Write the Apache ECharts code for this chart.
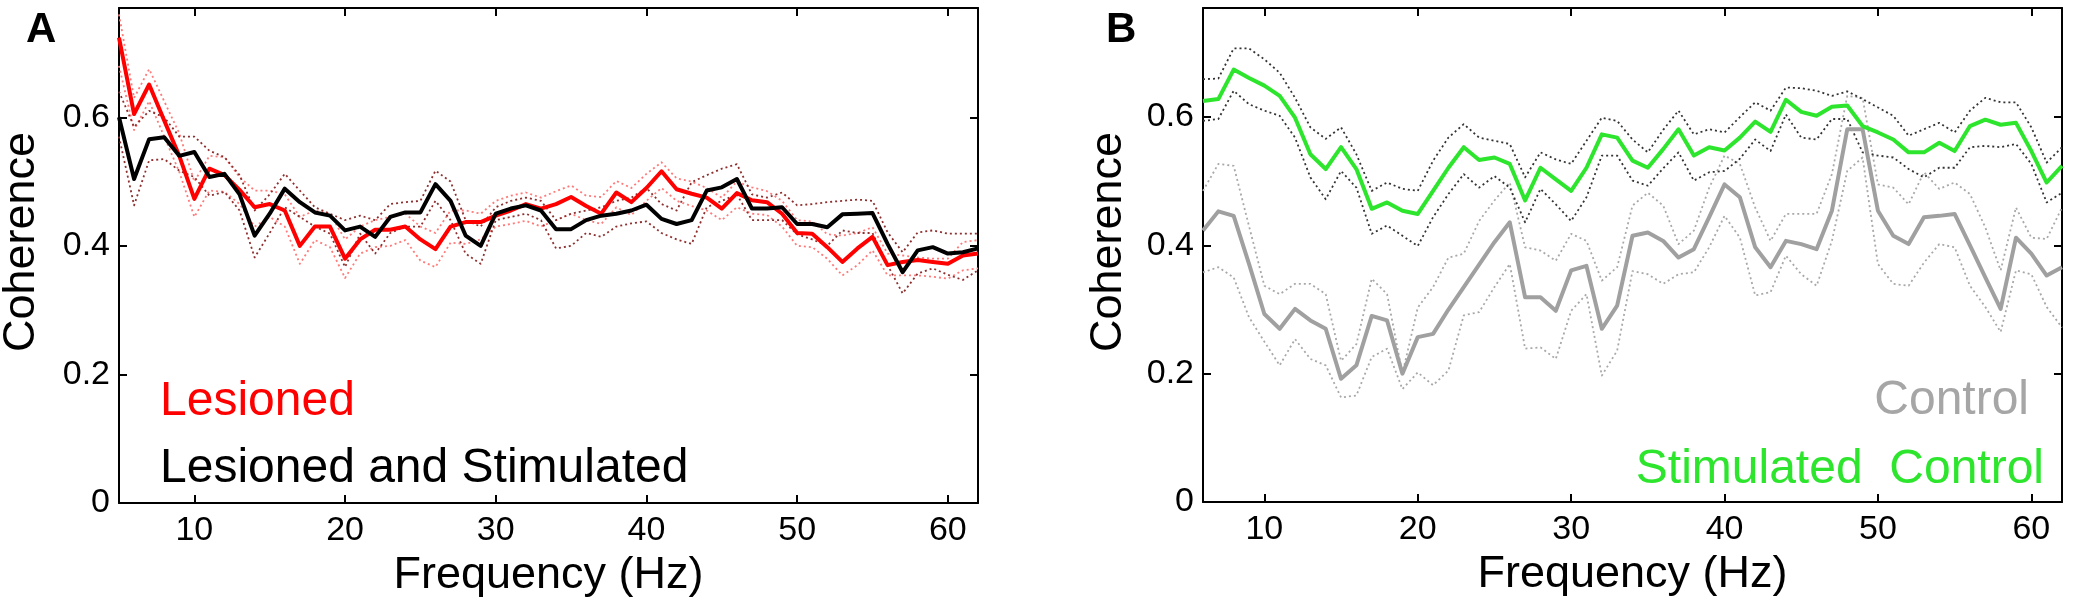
<!DOCTYPE html>
<html>
<head>
<meta charset="utf-8">
<script src="https://cdn.jsdelivr.net/npm/echarts@6/dist/echarts.min.js"></script>
<style>
html,body{margin:0;padding:0;background:#fff;}
#chart{width:2074px;height:604px;}
</style>
</head>
<body>
<div id="chart"></div>
<script>
// ---------- Data ----------
const freqA = [5,6,7,8,9,10,11,12,13,14,15,16,17,18,19,20,21,22,23,24,25,26,27,28,29,30,31,32,33,34,35,36,37,38,39,40,41,42,43,44,45,46,47,48,49,50,51,52,53,54,55,56,57,58,59,60,61,62];
const freqB = [6,7,8,9,10,11,12,13,14,15,16,17,18,19,20,21,22,23,24,25,26,27,28,29,30,31,32,33,34,35,36,37,38,39,40,41,42,43,44,45,46,47,48,49,50,51,52,53,54,55,56,57,58,59,60,61,62];

// Panel A: Lesioned (red) and Lesioned and Stimulated (black)
const lesioned = [0.724,0.605,0.651,0.595,0.54,0.473,0.52,0.51,0.487,0.46,0.465,0.455,0.40,0.43,0.43,0.38,0.41,0.425,0.425,0.43,0.41,0.395,0.43,0.437,0.437,0.447,0.455,0.465,0.458,0.465,0.476,0.462,0.45,0.483,0.468,0.49,0.516,0.488,0.481,0.475,0.458,0.482,0.471,0.468,0.45,0.42,0.419,0.398,0.375,0.396,0.414,0.37,0.375,0.378,0.375,0.372,0.385,0.388];
const lesionedUpper = [0.76,0.63,0.675,0.625,0.575,0.5,0.54,0.538,0.507,0.486,0.486,0.48,0.445,0.455,0.45,0.41,0.43,0.44,0.445,0.45,0.43,0.42,0.455,0.455,0.45,0.47,0.478,0.483,0.475,0.485,0.494,0.478,0.476,0.501,0.49,0.512,0.53,0.505,0.5,0.49,0.475,0.50,0.491,0.485,0.47,0.44,0.438,0.418,0.416,0.42,0.429,0.388,0.385,0.382,0.38,0.38,0.406,0.409];
const lesionedLower = [0.68,0.58,0.625,0.57,0.515,0.445,0.486,0.484,0.465,0.43,0.445,0.43,0.372,0.409,0.398,0.35,0.388,0.398,0.40,0.409,0.377,0.367,0.405,0.403,0.41,0.43,0.434,0.439,0.43,0.44,0.45,0.44,0.434,0.46,0.448,0.47,0.49,0.47,0.462,0.455,0.44,0.46,0.45,0.448,0.43,0.40,0.398,0.38,0.354,0.37,0.393,0.354,0.354,0.354,0.352,0.349,0.362,0.365];
const lesStim = [0.60,0.504,0.566,0.569,0.54,0.546,0.507,0.512,0.48,0.416,0.45,0.489,0.468,0.452,0.447,0.424,0.43,0.414,0.445,0.452,0.452,0.496,0.47,0.416,0.40,0.45,0.458,0.463,0.455,0.426,0.426,0.44,0.447,0.45,0.455,0.464,0.442,0.434,0.44,0.486,0.491,0.504,0.458,0.458,0.46,0.434,0.434,0.429,0.449,0.45,0.451,0.403,0.359,0.393,0.398,0.388,0.39,0.396];
const lesStimUpper = [0.64,0.585,0.61,0.60,0.57,0.57,0.548,0.538,0.51,0.455,0.48,0.512,0.486,0.46,0.45,0.44,0.447,0.44,0.465,0.468,0.47,0.517,0.50,0.44,0.43,0.46,0.47,0.475,0.47,0.44,0.45,0.455,0.46,0.47,0.475,0.49,0.465,0.455,0.499,0.51,0.52,0.527,0.48,0.475,0.483,0.463,0.465,0.468,0.47,0.472,0.47,0.421,0.39,0.421,0.424,0.419,0.419,0.419];
const lesStimLower = [0.57,0.463,0.533,0.535,0.517,0.507,0.478,0.484,0.455,0.382,0.42,0.46,0.445,0.43,0.419,0.367,0.419,0.388,0.42,0.43,0.43,0.47,0.44,0.388,0.372,0.44,0.445,0.45,0.44,0.396,0.40,0.42,0.414,0.43,0.435,0.438,0.42,0.41,0.403,0.46,0.47,0.48,0.44,0.44,0.44,0.418,0.41,0.40,0.424,0.42,0.42,0.37,0.326,0.357,0.365,0.355,0.347,0.362];

// Panel B: Control (gray) and Stimulated Control (green)
const control = [0.423,0.453,0.446,0.371,0.293,0.27,0.301,0.283,0.27,0.192,0.213,0.29,0.283,0.2,0.257,0.262,0.30,0.335,0.37,0.405,0.436,0.319,0.319,0.298,0.361,0.368,0.27,0.306,0.415,0.42,0.407,0.381,0.394,0.444,0.495,0.475,0.397,0.366,0.407,0.402,0.394,0.454,0.581,0.581,0.454,0.415,0.402,0.444,0.446,0.449,0.40,0.35,0.301,0.412,0.387,0.353,0.366];
const controlUpper = [0.485,0.527,0.524,0.43,0.337,0.324,0.34,0.34,0.324,0.22,0.246,0.348,0.324,0.2,0.303,0.335,0.381,0.387,0.438,0.47,0.498,0.397,0.392,0.376,0.418,0.407,0.345,0.366,0.462,0.482,0.462,0.402,0.423,0.49,0.54,0.527,0.459,0.407,0.449,0.449,0.449,0.511,0.633,0.63,0.495,0.49,0.464,0.514,0.488,0.498,0.48,0.428,0.361,0.459,0.412,0.41,0.459];
const controlLower = [0.358,0.366,0.35,0.288,0.25,0.213,0.254,0.223,0.213,0.163,0.166,0.226,0.239,0.176,0.202,0.182,0.205,0.291,0.296,0.335,0.371,0.239,0.241,0.223,0.298,0.324,0.197,0.236,0.36,0.355,0.34,0.355,0.358,0.397,0.446,0.412,0.322,0.327,0.384,0.355,0.337,0.407,0.516,0.537,0.371,0.34,0.337,0.373,0.402,0.397,0.337,0.304,0.265,0.361,0.355,0.304,0.272];
const stimControl = [0.625,0.628,0.674,0.661,0.649,0.633,0.599,0.542,0.519,0.553,0.519,0.457,0.467,0.454,0.449,0.485,0.521,0.553,0.533,0.537,0.527,0.47,0.521,0.503,0.485,0.521,0.573,0.568,0.532,0.521,0.55,0.581,0.54,0.553,0.548,0.568,0.593,0.577,0.627,0.608,0.602,0.616,0.618,0.586,0.576,0.565,0.545,0.545,0.56,0.547,0.586,0.596,0.588,0.591,0.547,0.498,0.524];
const stimControlUpper = [0.659,0.66,0.707,0.707,0.69,0.669,0.63,0.584,0.566,0.584,0.542,0.485,0.498,0.488,0.485,0.532,0.568,0.589,0.568,0.563,0.558,0.506,0.545,0.534,0.527,0.563,0.599,0.594,0.565,0.545,0.58,0.61,0.573,0.581,0.576,0.60,0.623,0.61,0.646,0.645,0.641,0.633,0.64,0.628,0.615,0.602,0.571,0.581,0.591,0.576,0.61,0.63,0.623,0.623,0.584,0.529,0.553];
const stimControlLower = [0.594,0.597,0.641,0.62,0.61,0.602,0.568,0.506,0.472,0.516,0.49,0.418,0.431,0.415,0.399,0.444,0.48,0.511,0.49,0.508,0.49,0.436,0.488,0.464,0.438,0.475,0.54,0.54,0.501,0.493,0.52,0.545,0.501,0.514,0.516,0.535,0.565,0.547,0.604,0.568,0.565,0.597,0.597,0.545,0.54,0.537,0.519,0.506,0.521,0.521,0.553,0.555,0.553,0.558,0.527,0.467,0.482];

// Tick labels
const xTicks = [10,20,30,40,50,60];
const yTicks = [0,0.2,0.4,0.6];

// ---------- Chart ----------
const FONT = '"Liberation Sans", Arial, Helvetica, sans-serif';
const pairs = (xs, ys) => xs.map((x, i) => [x, ys[i]]);

function xAxisCfg(grid, position, min, showLabels, name) {
  return {
    type: 'value', gridIndex: grid, position: position, min: min, max: 62,
    name: name || '', nameLocation: 'middle', nameGap: 46,
    nameTextStyle: {fontFamily: FONT, fontSize: 45, color: '#000'},
    axisLine: {show: true, onZero: false, lineStyle: {color: '#000', width: 2}},
    axisTick: {show: true, inside: true, length: 8, customValues: xTicks, lineStyle: {color: '#000', width: 2}},
    axisLabel: {show: showLabels, customValues: xTicks, margin: 11, fontFamily: FONT, fontSize: 34, color: '#000'},
    splitLine: {show: false}
  };
}
function yAxisCfg(grid, position, showLabels) {
  return {
    type: 'value', gridIndex: grid, position: position, min: 0, max: 0.77,
    axisLine: {show: true, onZero: false, lineStyle: {color: '#000', width: 2}},
    axisTick: {show: true, inside: true, length: 8, customValues: yTicks, lineStyle: {color: '#000', width: 2}},
    axisLabel: {show: showLabels, customValues: yTicks, margin: 9, fontFamily: FONT, fontSize: 34, color: '#000',
      formatter: v => String(Math.round(v * 10) / 10)},
    splitLine: {show: false}
  };
}
function line(name, xi, yi, xs, ys, color, width, dotted, z) {
  return {
    name: name, type: 'line', xAxisIndex: xi, yAxisIndex: yi,
    data: pairs(xs, ys), symbol: 'none', silent: true, z: z,
    lineStyle: {color: color, width: width, type: dotted ? [2, 3] : 'solid', cap: 'butt', join: 'round'}
  };
}

const chart = echarts.init(document.getElementById('chart'), null, {renderer: 'canvas'});
chart.setOption({
  animation: false,
  backgroundColor: '#ffffff',
  grid: [
    {left: 119, top: 8, width: 859, height: 495},
    {left: 1203, top: 8, width: 859, height: 494}
  ],
  xAxis: [
    xAxisCfg(0, 'bottom', 5, true, 'Frequency (Hz)'),
    xAxisCfg(0, 'top', 5, false),
    xAxisCfg(1, 'bottom', 6, true, 'Frequency (Hz)'),
    xAxisCfg(1, 'top', 6, false)
  ],
  yAxis: [
    yAxisCfg(0, 'left', true),
    yAxisCfg(0, 'right', false),
    yAxisCfg(1, 'left', true),
    yAxisCfg(1, 'right', false)
  ],
  series: [
    line('Lesioned upper', 0, 0, freqA, lesionedUpper, '#ff7a7a', 1.8, true, 2),
    line('Lesioned lower', 0, 0, freqA, lesionedLower, '#ff7a7a', 1.8, true, 2),
    line('Lesioned and Stimulated upper', 0, 0, freqA, lesStimUpper, '#8e2f2f', 1.8, true, 2),
    line('Lesioned and Stimulated lower', 0, 0, freqA, lesStimLower, '#8e2f2f', 1.8, true, 2),
    line('Lesioned', 0, 0, freqA, lesioned, '#ff0000', 4, false, 3),
    line('Lesioned and Stimulated', 0, 0, freqA, lesStim, '#000000', 4, false, 4),
    line('Control upper', 2, 2, freqB, controlUpper, '#a8a8a8', 1.8, true, 2),
    line('Control lower', 2, 2, freqB, controlLower, '#a8a8a8', 1.8, true, 2),
    line('Stimulated Control upper', 2, 2, freqB, stimControlUpper, '#333333', 1.8, true, 2),
    line('Stimulated Control lower', 2, 2, freqB, stimControlLower, '#333333', 1.8, true, 2),
    line('Control', 2, 2, freqB, control, '#a0a0a0', 4, false, 3),
    line('Stimulated Control', 2, 2, freqB, stimControl, '#2de52d', 4, false, 4)
  ],
  graphic: [
    {type: 'text', x: 26, y: 30, style: {text: 'A', font: 'bold 42px ' + FONT, fill: '#000', textVerticalAlign: 'middle'}},
    {type: 'text', x: 1106, y: 30, style: {text: 'B', font: 'bold 42px ' + FONT, fill: '#000', textVerticalAlign: 'middle'}},
    {type: 'text', x: 22, y: 242, rotation: Math.PI / 2, style: {text: 'Coherence', font: '45px ' + FONT, fill: '#000', textAlign: 'center', textVerticalAlign: 'middle'}},
    {type: 'text', x: 1109, y: 242, rotation: Math.PI / 2, style: {text: 'Coherence', font: '45px ' + FONT, fill: '#000', textAlign: 'center', textVerticalAlign: 'middle'}},
    {type: 'text', x: 160, y: 402, style: {text: 'Lesioned', font: '48px ' + FONT, fill: '#ff0000', textVerticalAlign: 'middle'}},
    {type: 'text', x: 160, y: 469, style: {text: 'Lesioned and Stimulated', font: '48px ' + FONT, fill: '#000000', textVerticalAlign: 'middle'}},
    {type: 'text', x: 2029, y: 401, style: {text: 'Control', font: '48px ' + FONT, fill: '#a6a6a6', textAlign: 'right', textVerticalAlign: 'middle'}},
    {type: 'text', x: 2044, y: 470, style: {text: 'Stimulated  Control', font: '48px ' + FONT, fill: '#2de52d', textAlign: 'right', textVerticalAlign: 'middle'}}
  ]
});
</script>
</body>
</html>
